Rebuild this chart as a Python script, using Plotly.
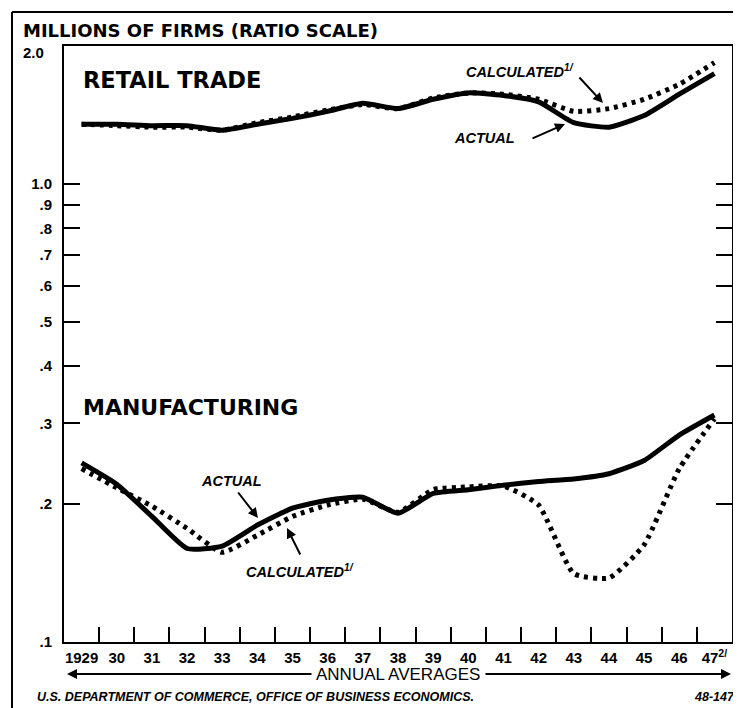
import plotly.graph_objects as go

years = list(range(1929, 1948))
year_labels = ["1929", "30", "31", "32", "33", "34", "35", "36", "37", "38",
               "39", "40", "41", "42", "43", "44", "45", "46", "47<sup>2/</sup>"]

retail_actual = [1.35, 1.35, 1.34, 1.34, 1.31, 1.35, 1.39, 1.44, 1.50, 1.46,
                 1.53, 1.58, 1.56, 1.51, 1.36, 1.33, 1.41, 1.57, 1.74]
retail_calc = [1.35, 1.34, 1.33, 1.33, 1.31, 1.36, 1.40, 1.45, 1.49, 1.46,
               1.54, 1.58, 1.57, 1.53, 1.44, 1.46, 1.53, 1.65, 1.84]
mfg_actual = [0.246, 0.221, 0.188, 0.160, 0.162, 0.180, 0.196, 0.204, 0.207, 0.191,
              0.211, 0.215, 0.220, 0.224, 0.227, 0.233, 0.249, 0.283, 0.313]
mfg_calc = [0.239, 0.217, 0.198, 0.177, 0.157, 0.171, 0.188, 0.199, 0.205, 0.192,
            0.215, 0.218, 0.219, 0.199, 0.141, 0.138, 0.163, 0.239, 0.307]

y_tickvals = [0.1, 0.2, 0.3, 0.4, 0.5, 0.6, 0.7, 0.8, 0.9, 1.0]
y_ticktext = [".1", ".2", ".3", ".4", ".5", ".6", ".7", ".8", ".9", "1.0"]
year_bounds = [y + 0.5 for y in range(1929, 1947)]

# page body has an 8px margin; work in screenshot pixels and subtract it
OFF = 8
W, H = 741 - OFF, 708 - OFF
L, R, T, B = 64 - OFF, 732 - OFF, 46 - OFF, 642 - OFF


def px(x):
    return (x - OFF - L) / (R - L)


def py(y):
    return (B - (y - OFF)) / (B - T)


fig = go.Figure()
solid = dict(color="black", width=5, shape="spline", smoothing=0.5)
dotted = dict(color="black", width=5, dash="4px,5px", shape="spline", smoothing=0.5)

fig.add_trace(go.Scatter(x=years, y=retail_actual, mode="lines", line=solid, name="Retail actual"))
fig.add_trace(go.Scatter(x=years, y=retail_calc, mode="lines", line=dotted, name="Retail calculated"))
fig.add_trace(go.Scatter(x=years, y=mfg_actual, mode="lines", line=solid, name="Manufacturing actual"))
fig.add_trace(go.Scatter(x=years, y=mfg_calc, mode="lines", line=dotted, name="Manufacturing calculated"))

tickfont = dict(family="Liberation Sans", size=15, color="black", weight="bold")

fig.update_xaxes(
    range=[1928.5, 1947.5],
    tickmode="array", tickvals=years, ticktext=year_labels,
    ticks="inside", ticklen=0, tickwidth=0,
    tickfont=tickfont, ticklabelstandoff=1,
    showline=True, linecolor="black", linewidth=2, mirror=True,
    showgrid=False, zeroline=False,
    minor=dict(tickmode="array", tickvals=year_bounds, ticks="inside",
               ticklen=15, tickwidth=1.5, tickcolor="black", showgrid=False),
)
fig.update_yaxes(
    type="log", range=[-1, 0.30103],
    tickmode="array", tickvals=y_tickvals, ticktext=y_ticktext,
    ticks="inside", ticklen=16, tickwidth=2, tickcolor="black",
    tickfont=tickfont, ticklabelstandoff=7,
    showline=True, linecolor="black", linewidth=2, mirror="ticks",
    showgrid=False, zeroline=False,
)

ann = []
bold = dict(family="DejaVu Sans", color="black", weight="bold")
ann.append(dict(x=px(21), y=py(30), xref="paper", yref="paper", xanchor="left", yanchor="middle",
                text="MILLIONS OF FIRMS (RATIO SCALE)", showarrow=False,
                font=dict(family="DejaVu Sans", size=18, color="black", weight="bold")))
ann.append(dict(x=px(21), y=py(52), xref="paper", yref="paper", xanchor="left", yanchor="middle",
                text="2.0", showarrow=False, font=tickfont))
ann.append(dict(x=px(81), y=py(80), xref="paper", yref="paper", xanchor="left", yanchor="middle",
                text="RETAIL TRADE", showarrow=False, font=dict(bold, size=22.5)))
ann.append(dict(x=px(81), y=py(407), xref="paper", yref="paper", xanchor="left", yanchor="middle",
                text="MANUFACTURING", showarrow=False, font=dict(bold, size=22)))

lab = dict(family="Liberation Sans", size=14.5, color="black", weight="bold", style="italic")
ann.append(dict(x=px(464), y=py(71), xref="paper", yref="paper", xanchor="left", yanchor="middle",
                text="CALCULATED<sup>1/</sup>", showarrow=False, font=lab))
ann.append(dict(x=px(452), y=py(138), xref="paper", yref="paper", xanchor="left", yanchor="middle",
                text="ACTUAL", showarrow=False, font=lab))
ann.append(dict(x=px(199), y=py(481), xref="paper", yref="paper", xanchor="left", yanchor="middle",
                text="ACTUAL", showarrow=False, font=lab))
ann.append(dict(x=px(244), y=py(571), xref="paper", yref="paper", xanchor="left", yanchor="middle",
                text="CALCULATED<sup>1/</sup>", showarrow=False, font=lab))

arrows = [((603, 103), (578, 76)), ((565, 124), (531, 139)),
          ((258, 518), (237, 491)), ((287, 528), (301, 556)),
          ((67, 674), (313, 674)), ((731, 674), (484, 674))]
for (tx, ty), (sx, sy) in arrows:
    ann.append(dict(x=px(tx), y=py(ty), xref="paper", yref="paper", text="",
                    showarrow=True, arrowhead=2, arrowsize=1, arrowwidth=2, arrowcolor="black",
                    ax=sx - tx, ay=sy - ty, axref="pixel", ayref="pixel"))

ann.append(dict(x=px(398), y=py(674), xref="paper", yref="paper", xanchor="center", yanchor="middle",
                text="ANNUAL AVERAGES", showarrow=False,
                font=dict(family="Liberation Sans", size=17, color="black")))
foot = dict(family="Liberation Sans", size=12.5, color="black", weight="bold", style="italic")
ann.append(dict(x=px(35), y=py(697), xref="paper", yref="paper", xanchor="left", yanchor="middle",
                text="U.S. DEPARTMENT OF COMMERCE, OFFICE OF BUSINESS ECONOMICS.", showarrow=False,
                font=foot))
ann.append(dict(x=px(737), y=py(697), xref="paper", yref="paper", xanchor="right", yanchor="middle",
                text="48-147", showarrow=False, font=foot))

shapes = [
    dict(type="line", xref="paper", yref="paper", x0=px(12), y0=py(12), x1=px(745), y1=py(12),
         line=dict(color="black", width=2)),
    dict(type="line", xref="paper", yref="paper", x0=px(12), y0=py(12), x1=px(12), y1=py(712),
         line=dict(color="black", width=2)),
]

fig.update_layout(
    width=W, height=H,
    margin=dict(l=L, r=W - R, t=T, b=H - B, autoexpand=False),
    paper_bgcolor="white", plot_bgcolor="white",
    showlegend=False,
    annotations=ann, shapes=shapes,
)

fig.write_html("out.html")
